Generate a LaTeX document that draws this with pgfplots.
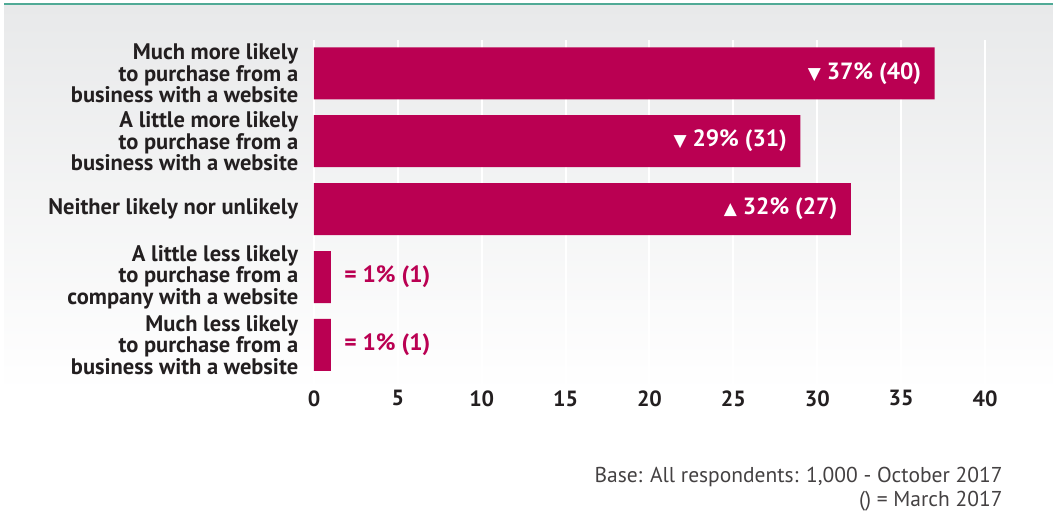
\documentclass[border=0pt]{standalone}
\usepackage{fontspec}
\setmainfont{PT Sans}
\newfontfamily\symfont{DejaVu Sans}
\usepackage{pgfplots}
\pgfplotsset{compat=1.18}
\definecolor{barc}{RGB}{186,0,82}
\definecolor{teal1}{RGB}{80,170,150}
\definecolor{txt}{RGB}{35,31,32}
\definecolor{bgtop}{RGB}{232,233,234}
\newcommand{\dn}{{\symfont\fontsize{17}{17}\selectfont ▼}}
\newcommand{\up}{{\symfont\fontsize{17}{17}\selectfont ▲}}
\begin{document}
\begin{tikzpicture}[x=1pt,y=1pt]
\useasboundingbox (0,0) rectangle (1053,512);
\shade[top color=bgtop, bottom color=white] (4,120) rectangle (1053,507);
\draw[teal1, line width=2pt] (4,508) -- (1053,508);
\begin{axis}[
  at={(314pt,127pt)}, anchor=south west, scale only axis,
  width=671pt, height=345pt,
  xmin=0, xmax=40, ymin=-0.49, ymax=4.59, y dir=reverse,
  xbar, bar width=52pt, bar shift=0pt,
  axis line style={draw=none}, tick style={draw=none},
  xmajorgrids, grid style={white, line width=2pt},
  xtick={0,5,...,40},
  ytick={0,1,2,3,4},
  yticklabels={{Much more likely\\to purchase from a\\business with a website},
               {A little more likely\\to purchase from a\\business with a website},
               {Neither likely nor unlikely},
               {A little less likely\\to purchase from a\\company with a website},
               {Much less likely\\to purchase from a\\business with a website}},
  yticklabel style={align=right, font=\bfseries\fontsize{22.5}{21.5}\selectfont, text=txt, xshift=-8pt},
  xticklabel style={font=\bfseries\fontsize{22}{22}\selectfont, text=txt, yshift=-2pt},
  /pgf/number format/assume math mode=true,
  point meta=explicit symbolic,
]
\addplot[fill=barc, draw=none, nodes near coords,
  every node near coord/.style={anchor=east, text=white, font=\bfseries\fontsize{23.5}{24}\selectfont, xshift=-10pt}]
  coordinates {(37,0) [\dn\ 37\% (40)] (29,1) [\dn\ 29\% (31)] (32,2) [\up\ 32\% (27)]};
\addplot[fill=barc, draw=none, nodes near coords,
  every node near coord/.style={anchor=west, text=barc, font=\bfseries\fontsize{23.5}{24}\selectfont, xshift=10pt}]
  coordinates {(1,3) [= 1\% (1)] (1,4) [= 1\% (1)]};
\end{axis}
\node[anchor=base east, text=txt!85, font=\fontsize{21.5}{22}\selectfont] at (1006,30) {Base: All respondents: 1,000 - October 2017};
\node[anchor=base east, text=txt!85, font=\fontsize{21.5}{22}\selectfont] at (1006,6) {() = March 2017};
\end{tikzpicture}
\end{document}
